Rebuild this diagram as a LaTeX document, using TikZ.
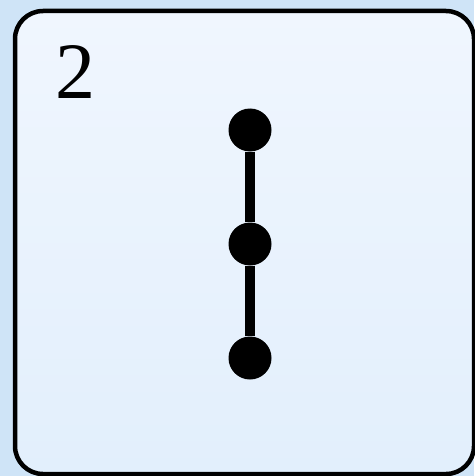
\documentclass[tikz,border=0pt]{standalone}
\usepackage{fontspec}
\setmainfont{Liberation Serif}
\usetikzlibrary{shadings}
\definecolor{outerbg}{HTML}{CFE4F7}
\definecolor{innertop}{HTML}{F0F6FE}
\definecolor{innerbot}{HTML}{E2EFFC}
\tikzset{
  dot/.style={circle,fill=black,minimum size=43pt,inner sep=0pt},
  link/.style={line width=10pt},
  panel/.style={draw=black,line width=4.5pt,rounded corners=28pt,top color=innertop,bottom color=innerbot}
}
\begin{document}
\begin{tikzpicture}[x=1pt,y=-1pt]
\useasboundingbox (0,0) rectangle (474,476);
\fill[outerbg] (0,0) rectangle (474,476);
\path[panel] (15,11) rectangle (474,474);
\node[anchor=base west,inner sep=0pt,font=\fontsize{80}{90}\selectfont] (lbl) at (55,99) {2};
\node[dot] (a) at (250,130) {};
\node[dot] (b) at (250,244) {};
\node[dot] (c) at (250,358) {};
\draw[link] (a) -- (b);
\draw[link] (b) -- (c);
\end{tikzpicture}
\end{document}
